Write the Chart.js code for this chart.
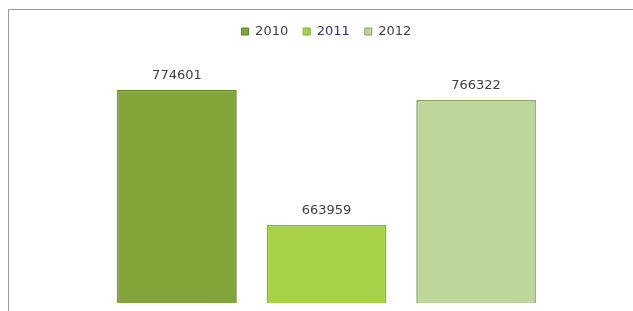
<!DOCTYPE html>
<html><head><meta charset="utf-8">
<script src="https://cdn.jsdelivr.net/npm/chart.js@4"></script>
<style>
html,body{margin:0;padding:0;background:#fff;}
#wrap{position:absolute;left:8px;top:9px;width:624px;height:301px;border-left:1px solid #9a9a9a;border-top:1px solid #9a9a9a;}
canvas{display:block;}
</style></head><body>
<div id="wrap"><canvas id="c" width="624" height="301"></canvas></div>
<script>
const categories = [""];
const seriesNames = ["2010", "2011", "2012"];
const values2010 = [774601];
const values2011 = [663959];
const values2012 = [766322];
const fills = ["#82a53a", "#a8d14a", "#bdd79b"];
const edges = ["#5f7d26", "#86ad34", "#889f70"];
const legendTextColors = ["#404040", "#30307a", "#404040"];

const labelPlugin = {
  id: 'barLabels',
  beforeInit(chart) {
    const orig = chart.legend && chart.legend.afterFit;
  },
  afterDatasetsDraw(chart) {
    const ctx = chart.ctx;
    ctx.save();
    ctx.font = '13px "DejaVu Sans"';
    ctx.fillStyle = '#404040';
    ctx.textAlign = 'center';
    ctx.textBaseline = 'middle';
    chart.data.datasets.forEach((ds, i) => {
      chart.getDatasetMeta(i).data.forEach((bar, j) => {
        ctx.fillText(String(ds.data[j]), bar.x, bar.y - 14);
      });
    });
    ctx.restore();
  }
};

const legendSpace = {
  id: 'legendSpace',
  beforeInit(chart) {
    const fit = chart.legend.fit;
    chart.legend.fit = function () { fit.bind(chart.legend)(); this.height += 11; };
  }
};

const series = [values2010, values2011, values2012];
new Chart(document.getElementById('c'), {
  type: 'bar',
  data: {
    labels: categories,
    datasets: seriesNames.map((n, i) => ({
      label: n,
      data: series[i],
      backgroundColor: fills[i],
      borderColor: edges[i],
      borderWidth: 1.5,
      barPercentage: 0.8,
      categoryPercentage: 0.732
    }))
  },
  options: {
    responsive: false,
    animation: false,
    layout: { padding: { left: 11, right: 0, top: 0, bottom: 8 } },
    plugins: {
      legend: {
        position: 'top',
        labels: {
          boxWidth: 7, boxHeight: 7, padding: 15,
          font: { family: 'DejaVu Sans', size: 13 },
          generateLabels(chart) {
            return chart.data.datasets.map((ds, i) => ({
              text: ds.label, fillStyle: fills[i], strokeStyle: edges[i], lineWidth: 1,
              fontColor: legendTextColors[i], datasetIndex: i, hidden: false
            }));
          }
        }
      },
      tooltip: { enabled: false },
      title: { display: false }
    },
    scales: {
      x: { display: false, grid: { display: false } },
      y: { display: false, min: 600000, max: 800000, grid: { display: false } }
    }
  },
  plugins: [labelPlugin, legendSpace]
});
</script>
</body></html>
